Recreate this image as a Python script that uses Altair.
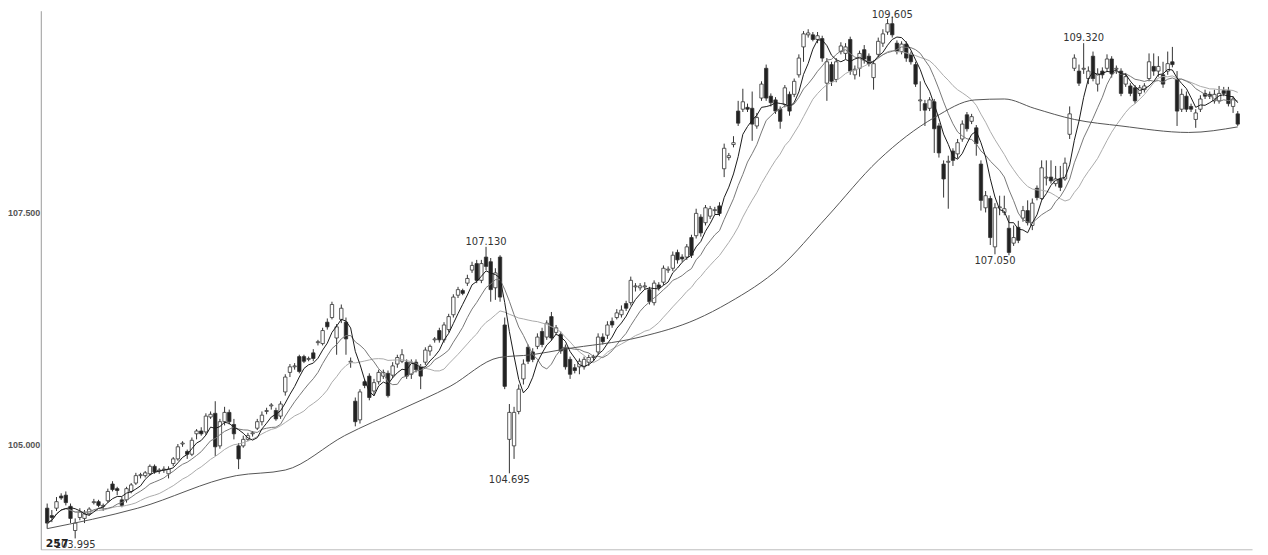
import altair as alt
import pandas as pd

# OHLC candles, read left to right from the picture
open_ = [104.32,104.24,104.32,104.45,104.46,104.34,104.08,104.22,104.21,104.26,104.38,104.39,104.34,104.40,104.58,104.53,104.41,104.41,104.50,104.59,
104.67,104.67,104.69,104.77,104.72,104.73,104.69,104.80,104.85,105.01,104.93,104.90,105.12,105.15,105.14,105.30,105.34,104.99,105.25,105.35,
105.22,104.99,104.99,105.06,105.12,105.18,105.25,105.36,105.42,105.37,105.31,105.57,105.78,105.84,105.95,105.95,105.92,105.99,106.10,106.09,
106.32,106.37,106.15,106.35,106.32,105.89,105.47,105.27,105.68,105.74,105.58,105.68,105.74,105.77,105.75,105.87,105.90,105.89,105.76,105.89,
105.84,105.89,106.01,106.13,106.23,106.13,106.24,106.40,106.61,106.66,106.74,106.88,106.95,106.77,107.02,106.97,106.69,107.02,106.29,105.06,
104.99,105.36,105.71,106.05,106.00,106.06,106.22,106.16,106.38,106.21,106.19,106.05,105.92,105.83,105.84,105.84,105.89,105.94,106.00,106.16,
106.18,106.33,106.37,106.40,106.52,106.53,106.70,106.69,106.70,106.67,106.53,106.72,106.75,106.88,106.90,107.07,107.02,107.02,107.23,107.25,
107.45,107.39,107.46,107.52,107.57,107.97,108.09,108.23,108.59,108.61,108.63,108.62,108.43,108.73,109.05,108.75,108.71,108.61,108.66,108.77,
108.77,108.98,109.28,109.41,109.41,109.36,109.37,108.89,109.09,108.93,109.23,109.21,109.36,108.98,109.05,109.25,109.18,108.95,109.20,109.32,
109.44,109.53,109.32,109.23,109.31,109.20,109.09,108.70,108.67,108.62,108.69,108.43,108.02,108.04,108.16,108.13,108.29,108.55,108.48,108.41,
108.02,107.55,107.65,107.13,107.55,107.50,107.33,107.17,107.34,107.44,107.52,107.36,107.76,107.65,107.87,107.88,107.81,107.86,107.86,108.34,
109.05,109.02,109.04,108.94,109.18,108.88,109.02,109.05,109.15,109.04,109.02,108.88,108.86,108.84,108.78,108.82,108.94,109.07,109.02,108.98,
109.02,109.12,108.93,108.61,108.75,108.64,108.50,108.61,108.78,108.77,108.70,108.70,108.81,108.81,108.64,108.56]
high = [104.37,104.30,104.44,104.48,104.50,104.37,104.21,104.32,104.30,104.33,104.42,104.41,104.37,104.53,104.61,104.55,104.44,104.55,104.59,104.70,
104.70,104.72,104.79,104.79,104.75,104.77,104.77,104.87,105.01,105.04,104.95,105.08,105.17,105.19,105.34,105.36,105.47,105.28,105.41,105.38,
105.28,105.02,105.10,105.13,105.15,105.28,105.36,105.40,105.45,105.40,105.47,105.76,105.87,105.88,105.97,105.97,105.95,106.03,106.13,106.26,
106.36,106.54,106.30,106.51,106.37,105.94,105.51,105.60,105.71,105.77,105.71,105.81,105.81,105.80,105.89,105.97,106.03,105.92,105.92,105.92,
105.87,106.05,106.08,106.16,106.26,106.32,106.41,106.62,106.70,106.68,106.83,106.97,106.99,106.99,107.13,107.01,106.90,107.04,106.37,105.44,
105.41,105.65,105.92,106.08,106.04,106.20,106.26,106.34,106.43,106.29,106.22,106.08,105.95,105.87,105.93,105.95,105.97,105.97,106.20,106.20,
106.33,106.37,106.46,106.50,106.55,106.81,106.74,106.74,106.75,106.70,106.77,106.75,106.93,106.92,107.08,107.10,107.05,107.16,107.26,107.54,
107.48,107.58,107.57,107.56,107.61,108.24,108.14,108.32,108.70,108.83,108.67,108.80,108.57,108.91,109.09,108.78,108.74,108.64,108.87,108.80,
108.94,109.20,109.45,109.47,109.44,109.44,109.40,109.16,109.12,109.16,109.33,109.32,109.39,109.08,109.24,109.30,109.21,109.14,109.38,109.47,
109.58,109.605,109.35,109.34,109.34,109.23,109.12,108.91,108.71,108.74,108.72,108.46,108.06,108.11,108.19,108.29,108.49,108.58,108.56,108.44,
108.06,107.73,107.68,107.60,107.68,107.68,107.47,107.36,107.41,107.57,107.63,107.65,107.79,108.06,108.06,108.06,108.00,108.00,108.09,108.64,
109.20,109.09,109.32,109.07,109.23,109.05,109.06,109.20,109.18,109.08,109.05,109.00,108.89,108.87,108.87,108.89,109.21,109.21,109.18,109.12,
109.23,109.28,109.02,108.83,108.80,108.67,108.61,108.76,108.82,108.80,108.82,108.86,108.85,108.85,108.75,108.59]
low = [104.10,104.17,104.29,104.41,104.35,104.16,103.995,104.19,104.16,104.24,104.36,104.33,104.29,104.38,104.50,104.46,104.33,104.38,104.48,104.57,
104.64,104.65,104.67,104.69,104.69,104.70,104.64,104.77,104.83,104.98,104.85,104.88,105.06,105.10,105.11,105.28,104.88,104.96,105.21,105.22,
105.06,104.74,104.97,105.04,105.09,105.16,105.21,105.33,105.38,105.26,105.28,105.53,105.73,105.81,105.77,105.88,105.90,105.90,106.07,106.07,
106.24,106.35,105.97,106.31,105.97,105.83,105.20,105.23,105.61,105.48,105.53,105.65,105.71,105.51,105.72,105.83,105.88,105.71,105.71,105.78,
105.60,105.86,105.96,106.10,106.10,106.10,106.21,106.37,106.58,106.61,106.71,106.85,106.74,106.74,106.88,106.54,106.56,106.54,105.60,104.695,
104.85,105.33,105.65,105.87,105.89,106.03,106.05,106.13,106.12,106.18,105.98,105.81,105.71,105.77,105.76,105.81,105.85,105.90,105.97,106.08,
106.14,106.26,106.35,106.37,106.44,106.50,106.65,106.66,106.67,106.51,106.50,106.66,106.72,106.85,106.87,106.95,106.97,106.99,107.01,107.22,
107.24,107.36,107.43,107.48,107.46,107.88,108.06,108.20,108.43,108.58,108.58,108.27,108.40,108.70,108.70,108.64,108.56,108.40,108.63,108.54,
108.74,108.95,109.12,109.38,109.34,109.32,109.12,108.70,108.86,108.90,109.20,109.15,108.98,108.93,108.96,109.10,109.07,108.82,109.17,109.28,
109.41,109.38,109.20,109.20,109.12,109.09,108.85,108.59,108.43,108.59,108.14,108.09,107.66,107.54,108.00,108.08,108.26,108.37,108.45,108.11,
107.52,107.50,107.15,107.05,107.47,107.47,107.04,107.14,107.17,107.40,107.36,107.31,107.63,107.63,107.79,107.81,107.78,107.73,107.84,108.29,
109.02,108.86,108.99,108.88,108.91,108.80,108.94,109.02,108.95,108.99,108.75,108.85,108.75,108.67,108.75,108.79,108.91,108.97,108.96,108.84,
108.98,109.06,108.43,108.58,108.58,108.58,108.41,108.58,108.72,108.72,108.67,108.67,108.75,108.64,108.57,108.43]
close = [104.16,104.22,104.39,104.43,104.38,104.21,104.16,104.28,104.26,104.31,104.39,104.35,104.35,104.50,104.52,104.51,104.35,104.53,104.57,104.67,
104.68,104.70,104.77,104.71,104.73,104.74,104.74,104.85,104.98,105.02,104.90,105.05,105.15,105.12,105.31,105.33,104.98,105.25,105.35,105.25,
105.12,104.85,105.06,105.10,105.13,105.25,105.32,105.37,105.43,105.28,105.44,105.73,105.84,105.85,105.79,105.90,105.93,105.93,106.11,106.23,
106.27,106.51,106.27,106.47,106.14,105.90,105.25,105.57,105.64,105.51,105.67,105.78,105.78,105.53,105.85,105.94,105.97,105.74,105.89,105.81,
105.74,106.02,106.06,106.14,106.13,106.29,106.38,106.59,106.67,106.63,106.79,106.93,106.77,106.95,106.92,106.67,106.85,106.59,105.63,105.35,
105.35,105.60,105.87,105.90,105.92,106.16,106.08,106.31,106.15,106.26,106.01,105.84,105.76,105.80,105.90,105.92,105.94,105.95,106.16,106.11,
106.29,106.29,106.42,106.45,106.47,106.77,106.71,106.71,106.71,106.54,106.74,106.69,106.90,106.89,107.04,106.99,107.00,107.13,107.04,107.49,
107.28,107.55,107.54,107.53,107.49,108.19,108.11,108.25,108.46,108.69,108.61,108.45,108.52,108.88,108.73,108.68,108.59,108.48,108.84,108.59,
108.91,109.16,109.42,109.43,109.36,109.40,109.16,109.12,108.91,109.12,109.29,109.28,109.02,109.04,109.21,109.15,109.10,109.10,109.34,109.42,
109.53,109.41,109.23,109.31,109.16,109.12,108.88,108.71,108.60,108.71,108.40,108.14,107.86,108.05,108.06,108.25,108.45,108.40,108.53,108.24,
107.63,107.68,107.23,107.55,107.56,107.54,107.07,107.23,107.20,107.52,107.39,107.60,107.66,107.98,107.88,107.84,107.86,107.77,108.03,108.56,
109.16,108.89,109.05,109.02,108.94,108.99,108.98,109.15,108.99,109.05,108.78,108.96,108.78,108.70,108.84,108.86,109.12,109.02,109.07,108.88,
109.10,109.09,108.59,108.77,108.61,108.61,108.57,108.72,108.75,108.75,108.77,108.78,108.78,108.67,108.72,108.45]

# long moving average at a few candle positions
long_ma_idx = [0, 19.4, 40.5, 51, 63.7, 75.7, 86.3, 96.8, 103.8, 110.8, 127, 139, 146, 157, 167, 178, 190, 198.7, 205, 211.4, 220, 230, 244.5, 255]
long_ma_val = [104.10, 104.32, 104.67, 104.73, 105.10, 105.38, 105.63, 105.94, 105.97, 106.03, 106.16, 106.35, 106.53, 106.91, 107.45, 108.06,
               108.52, 108.71, 108.72, 108.62, 108.50, 108.43, 108.36, 108.42]

# price annotations ("top" = the label that sits against the top edge)
ann_idx = [94, 181, 222, 99, 203, 6]
ann_val = [107.130, 109.605, 109.320, 104.695, 107.050, 103.995]
ann_kind = ["high", "top", "high", "low", "low", "low"]

# y-axis tick values
y_ticks = [105.0, 107.5]

n = min(len(open_), len(high), len(low), len(close))
df = pd.DataFrame({"i": list(range(n)), "open": open_[:n], "high": high[:n], "low": low[:n], "close": close[:n]})
df_ma = pd.DataFrame({"i": long_ma_idx, "v": long_ma_val})
df_ann = pd.DataFrame({"i": ann_idx, "v": ann_val, "kind": ann_kind})
df_ann["label"] = df_ann["v"].map(lambda x: f"{x:.3f}")
df_cnt = pd.DataFrame({"i": [-0.3], "v": [103.995], "label": ["257"]})

xs = alt.Scale(domain=[-0.3, 257.0], nice=False, zero=False)
ys = alt.Scale(domain=[103.878, 109.669], nice=False, zero=False)

x_axis = alt.Axis(labels=False, ticks=False, grid=False, domainColor="#bbbbbb", title=None)
y_axis = alt.Axis(values=y_ticks, format=".3f", grid=False, ticks=False, domainColor="#999999",
                  labelFont="Liberation Sans", labelFontSize=9, labelFontWeight="bold",
                  labelColor="#555555", labelPadding=1, title=None)


def X(f):
    return alt.X(f, type="quantitative", scale=xs, axis=x_axis, title=None)


def Y(f):
    return alt.Y(f, type="quantitative", scale=ys, axis=y_axis, title=None)


base = alt.Chart(df)

wicks = base.mark_rule(color="#333", strokeWidth=1).encode(x=X("i"), y=Y("low"), y2="high")
bodies = base.mark_bar(size=3.4, stroke="#333", strokeWidth=0.8).encode(
    x=X("i"), y=Y("open"), y2="close",
    fill=alt.condition("datum.close < datum.open", alt.value("#222"), alt.value("#ffffff")),
)


def ma_layer(w, color):
    return base.transform_window(
        ma="mean(close)", frame=[-(w - 1), 0], sort=[alt.SortField("i")]
    ).mark_line(color=color, strokeWidth=1).encode(x=X("i"), y=Y("ma:Q"))


ma5 = ma_layer(5, "#1a1a1a")
ma10 = ma_layer(10, "#777777")
ma20 = ma_layer(20, "#aaaaaa")
long_ma = alt.Chart(df_ma).mark_line(color="#555555", strokeWidth=1, interpolate="monotone").encode(x=X("i"), y=Y("v"))

hi_txt = alt.Chart(df_ann).transform_filter("datum.kind == 'high'").mark_text(
    baseline="bottom", dy=0, font="DejaVu Sans", fontSize=10, color="#333"
).encode(x=X("i"), y=Y("v"), text="label:N")
top_txt = alt.Chart(df_ann).transform_filter("datum.kind == 'top'").mark_text(
    baseline="bottom", dy=3, font="DejaVu Sans", fontSize=10, color="#333"
).encode(x=X("i"), y=Y("v"), text="label:N")
lo_txt = alt.Chart(df_ann).transform_filter("datum.kind == 'low'").mark_text(
    baseline="top", dy=2, font="DejaVu Sans", fontSize=10, color="#333"
).encode(x=X("i"), y=Y("v"), text="label:N")
cnt_txt = alt.Chart(df_cnt).mark_text(
    baseline="top", align="left", dy=0, font="DejaVu Sans", fontSize=11, fontWeight="bold", color="#222"
).encode(x=X("i"), y=Y("v"), text="label:N")

chart = alt.layer(wicks, bodies, ma20, ma10, long_ma, ma5, hi_txt, top_txt, lo_txt, cnt_txt).properties(
    width=1219, height=542,
    padding={"left": 33, "top": 1, "right": 8, "bottom": 4},
    autosize=alt.AutoSizeParams(type="none"),
    background="white",
).configure_view(stroke=None)

chart.save("out.html", embed_options={"renderer": "svg", "actions": False})
